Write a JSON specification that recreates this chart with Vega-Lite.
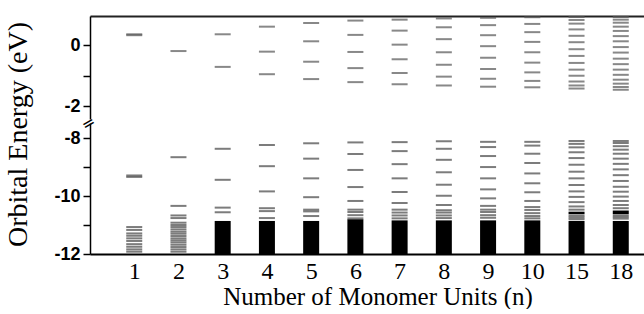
{
  "$schema": "https://vega.github.io/schema/vega-lite/v6.json",
  "padding": {"left": 3, "top": 15, "right": 0, "bottom": 0},
  "background": "white",
  "bounds": "flush",
  "spacing": 4,
  "config": {"view": {"stroke": null}},
  "datasets": {
    "upper": [
      {"n": 1, "E": 0.33}, {"n": 1, "E": 0.36},
      {"n": 2, "E": -0.19},
      {"n": 3, "E": 0.36}, {"n": 3, "E": -0.71},
      {"n": 4, "E": 0.61}, {"n": 4, "E": -0.21}, {"n": 4, "E": -0.95},
      {"n": 5, "E": 0.73}, {"n": 5, "E": 0.13}, {"n": 5, "E": -0.54}, {"n": 5, "E": -1.11},
      {"n": 6, "E": 0.81}, {"n": 6, "E": 0.34}, {"n": 6, "E": -0.22}, {"n": 6, "E": -0.75}, {"n": 6, "E": -1.21},
      {"n": 7, "E": 0.84}, {"n": 7, "E": 0.48}, {"n": 7, "E": 0.02}, {"n": 7, "E": -0.46}, {"n": 7, "E": -0.91}, {"n": 7, "E": -1.28},
      {"n": 8, "E": 0.88}, {"n": 8, "E": 0.59}, {"n": 8, "E": 0.2}, {"n": 8, "E": -0.23}, {"n": 8, "E": -0.64}, {"n": 8, "E": -1.03}, {"n": 8, "E": -1.32},
      {"n": 9, "E": 0.9}, {"n": 9, "E": 0.66}, {"n": 9, "E": 0.33}, {"n": 9, "E": -0.03}, {"n": 9, "E": -0.41}, {"n": 9, "E": -0.78}, {"n": 9, "E": -1.1}, {"n": 9, "E": -1.36},
      {"n": 10, "E": 0.92}, {"n": 10, "E": 0.7}, {"n": 10, "E": 0.43}, {"n": 10, "E": 0.11}, {"n": 10, "E": -0.23}, {"n": 10, "E": -0.57}, {"n": 10, "E": -0.89}, {"n": 10, "E": -1.17}, {"n": 10, "E": -1.38},
      {"n": 15, "E": 0.93}, {"n": 15, "E": 0.83}, {"n": 15, "E": 0.71}, {"n": 15, "E": 0.52}, {"n": 15, "E": 0.31}, {"n": 15, "E": 0.1}, {"n": 15, "E": -0.13}, {"n": 15, "E": -0.35}, {"n": 15, "E": -0.58}, {"n": 15, "E": -0.8}, {"n": 15, "E": -1.0}, {"n": 15, "E": -1.19}, {"n": 15, "E": -1.32}, {"n": 15, "E": -1.42},
      {"n": 18, "E": 0.93}, {"n": 18, "E": 0.84}, {"n": 18, "E": 0.74}, {"n": 18, "E": 0.61}, {"n": 18, "E": 0.47}, {"n": 18, "E": 0.3}, {"n": 18, "E": 0.13}, {"n": 18, "E": -0.06}, {"n": 18, "E": -0.24}, {"n": 18, "E": -0.44}, {"n": 18, "E": -0.62}, {"n": 18, "E": -0.8}, {"n": 18, "E": -0.97}, {"n": 18, "E": -1.13}, {"n": 18, "E": -1.26}, {"n": 18, "E": -1.37}, {"n": 18, "E": -1.46}
    ],
    "lower": [
      {"n": 1, "E": -9.29}, {"n": 1, "E": -9.34},
      {"n": 1, "E": -11.07}, {"n": 1, "E": -11.17}, {"n": 1, "E": -11.29}, {"n": 1, "E": -11.37}, {"n": 1, "E": -11.46}, {"n": 1, "E": -11.55}, {"n": 1, "E": -11.66}, {"n": 1, "E": -11.75}, {"n": 1, "E": -11.84}, {"n": 1, "E": -11.92},
      {"n": 2, "E": -8.66}, {"n": 2, "E": -10.34}, {"n": 2, "E": -10.67}, {"n": 2, "E": -10.76},
      {"n": 2, "E": -10.92}, {"n": 2, "E": -11.0}, {"n": 2, "E": -11.07}, {"n": 2, "E": -11.15}, {"n": 2, "E": -11.23}, {"n": 2, "E": -11.3}, {"n": 2, "E": -11.38}, {"n": 2, "E": -11.46}, {"n": 2, "E": -11.53}, {"n": 2, "E": -11.6}, {"n": 2, "E": -11.68}, {"n": 2, "E": -11.76}, {"n": 2, "E": -11.84}, {"n": 2, "E": -11.92},
      {"n": 3, "E": -8.37}, {"n": 3, "E": -9.44}, {"n": 3, "E": -10.4}, {"n": 3, "E": -10.56},
      {"n": 4, "E": -8.24}, {"n": 4, "E": -8.97}, {"n": 4, "E": -9.84}, {"n": 4, "E": -10.42}, {"n": 4, "E": -10.52}, {"n": 4, "E": -10.76},
      {"n": 5, "E": -8.18}, {"n": 5, "E": -8.71}, {"n": 5, "E": -9.39}, {"n": 5, "E": -10.04}, {"n": 5, "E": -10.47}, {"n": 5, "E": -10.53}, {"n": 5, "E": -10.69},
      {"n": 6, "E": -8.15}, {"n": 6, "E": -8.55}, {"n": 6, "E": -9.1}, {"n": 6, "E": -9.69}, {"n": 6, "E": -10.17}, {"n": 6, "E": -10.47}, {"n": 6, "E": -10.55}, {"n": 6, "E": -10.66}, {"n": 6, "E": -10.77},
      {"n": 7, "E": -8.14}, {"n": 7, "E": -8.45}, {"n": 7, "E": -8.9}, {"n": 7, "E": -9.39}, {"n": 7, "E": -9.86}, {"n": 7, "E": -10.24}, {"n": 7, "E": -10.47}, {"n": 7, "E": -10.57}, {"n": 7, "E": -10.67}, {"n": 7, "E": -10.77},
      {"n": 8, "E": -8.11}, {"n": 8, "E": -8.37}, {"n": 8, "E": -8.75}, {"n": 8, "E": -9.18}, {"n": 8, "E": -9.61}, {"n": 8, "E": -9.99}, {"n": 8, "E": -10.31}, {"n": 8, "E": -10.49}, {"n": 8, "E": -10.57}, {"n": 8, "E": -10.67}, {"n": 8, "E": -10.76},
      {"n": 9, "E": -8.13}, {"n": 9, "E": -8.31}, {"n": 9, "E": -8.62}, {"n": 9, "E": -9.0}, {"n": 9, "E": -9.39}, {"n": 9, "E": -9.77}, {"n": 9, "E": -10.08}, {"n": 9, "E": -10.34}, {"n": 9, "E": -10.47}, {"n": 9, "E": -10.55}, {"n": 9, "E": -10.66}, {"n": 9, "E": -10.75},
      {"n": 10, "E": -8.13}, {"n": 10, "E": -8.26}, {"n": 10, "E": -8.54}, {"n": 10, "E": -8.86}, {"n": 10, "E": -9.22}, {"n": 10, "E": -9.56}, {"n": 10, "E": -9.87}, {"n": 10, "E": -10.17}, {"n": 10, "E": -10.38}, {"n": 10, "E": -10.48}, {"n": 10, "E": -10.59}, {"n": 10, "E": -10.69}, {"n": 10, "E": -10.77},
      {"n": 15, "E": -8.1}, {"n": 15, "E": -8.2}, {"n": 15, "E": -8.32}, {"n": 15, "E": -8.49}, {"n": 15, "E": -8.69}, {"n": 15, "E": -8.92}, {"n": 15, "E": -9.16}, {"n": 15, "E": -9.39}, {"n": 15, "E": -9.62}, {"n": 15, "E": -9.84}, {"n": 15, "E": -10.03}, {"n": 15, "E": -10.21}, {"n": 15, "E": -10.36}, {"n": 15, "E": -10.47}, {"n": 15, "E": -10.68}, {"n": 15, "E": -10.74}, {"n": 15, "E": -10.8},
      {"n": 18, "E": -8.1}, {"n": 18, "E": -8.17}, {"n": 18, "E": -8.28}, {"n": 18, "E": -8.4}, {"n": 18, "E": -8.54}, {"n": 18, "E": -8.71}, {"n": 18, "E": -8.89}, {"n": 18, "E": -9.08}, {"n": 18, "E": -9.28}, {"n": 18, "E": -9.48}, {"n": 18, "E": -9.68}, {"n": 18, "E": -9.85}, {"n": 18, "E": -10.02}, {"n": 18, "E": -10.17}, {"n": 18, "E": -10.31}, {"n": 18, "E": -10.42}, {"n": 18, "E": -10.66}, {"n": 18, "E": -10.72}, {"n": 18, "E": -10.78}
    ],
    "bands": [
      {"n": 3, "top": -10.86, "bottom": -12},
      {"n": 4, "top": -10.86, "bottom": -12},
      {"n": 5, "top": -10.86, "bottom": -12},
      {"n": 6, "top": -10.8, "bottom": -12},
      {"n": 7, "top": -10.84, "bottom": -12},
      {"n": 8, "top": -10.84, "bottom": -12},
      {"n": 9, "top": -10.84, "bottom": -12},
      {"n": 10, "top": -10.84, "bottom": -12},
      {"n": 15, "top": -10.86, "bottom": -12},
      {"n": 15, "top": -10.54, "bottom": -10.63},
      {"n": 18, "top": -10.86, "bottom": -12},
      {"n": 18, "top": -10.5, "bottom": -10.62}
    ]
  },
  "vconcat": [
    {
      "width": 575,
      "height": 103,
      "data": {"name": "upper"},
      "mark": {"type": "tick", "color": "#555555", "thickness": 2, "size": 16},
      "encoding": {
        "x": {
          "field": "n", "type": "ordinal",
          "scale": {"type": "point", "domain": [1, 2, 3, 4, 5, 6, 7, 8, 9, 10, 15, 18], "padding": 1.1},
          "axis": {"orient": "top", "labels": false, "ticks": false, "title": null, "grid": false, "domainColor": "#222222", "domainWidth": 2}
        },
        "y": {
          "field": "E", "type": "quantitative",
          "scale": {"domain": [-2.42, 0.96], "nice": false, "zero": false},
          "axis": {
            "values": [0, -1, -2],
            "labelExpr": "datum.value % 2 == 0 ? '' + datum.value : ''",
            "grid": false,
            "labelFont": "Liberation Sans", "labelFontWeight": "bold", "labelFontSize": 18, "labelColor": "#000000", "labelPadding": 3,
            "tickColor": "#000000", "tickSize": 7, "tickWidth": 1.5,
            "domainColor": "#000000", "domainWidth": 1.5,
            "title": "=", "titleFont": "DejaVu Sans", "titleFontSize": 16, "titleFontWeight": "normal", "titleColor": "#000000",
            "titleAngle": -30, "titleX": -2, "titleY": 107, "titleAlign": "center", "titleBaseline": "middle"
          }
        }
      }
    },
    {
      "width": 575,
      "height": 131,
      "layer": [
        {
          "data": {"name": "bands"},
          "mark": {"type": "bar", "color": "#000000", "width": 16},
          "encoding": {
            "x": {"field": "n", "type": "ordinal"},
            "y": {"field": "top", "type": "quantitative"},
            "y2": {"field": "bottom"}
          }
        },
        {
          "data": {"name": "lower"},
          "mark": {"type": "tick", "color": "#444444", "thickness": 2, "size": 16},
          "encoding": {
            "x": {"field": "n", "type": "ordinal"},
            "y": {"field": "E", "type": "quantitative"}
          }
        }
      ],
      "encoding": {
        "x": {
          "field": "n", "type": "ordinal",
          "scale": {"type": "point", "domain": [1, 2, 3, 4, 5, 6, 7, 8, 9, 10, 15, 18], "padding": 1.1},
          "axis": {
            "orient": "bottom", "labelAngle": 0, "ticks": false, "grid": false, "domainColor": "#000000", "domainWidth": 2,
            "labelFont": "Liberation Serif", "labelFontSize": 24, "labelColor": "#000000", "labelPadding": 5,
            "title": "Number of Monomer Units (n)", "titleFont": "Liberation Serif", "titleFontSize": 25, "titleFontWeight": "normal", "titleColor": "#000000", "titlePadding": 1
          }
        },
        "y": {
          "type": "quantitative",
          "scale": {"domain": [-12, -7.48], "nice": false, "zero": false},
          "axis": {
            "values": [-8, -9, -10, -11, -12],
            "labelExpr": "datum.value % 2 == 0 ? '' + datum.value : ''",
            "grid": false,
            "labelFont": "Liberation Sans", "labelFontWeight": "bold", "labelFontSize": 18, "labelColor": "#000000", "labelPadding": 3,
            "tickColor": "#000000", "tickSize": 7, "tickWidth": 1.5,
            "domainColor": "#000000", "domainWidth": 1.5,
            "title": "Orbital Energy (eV)", "titleFont": "Liberation Serif", "titleFontSize": 28, "titleFontWeight": "normal", "titleColor": "#000000",
            "titleAngle": -90, "titleX": -58, "titleY": 11, "titleAlign": "center", "titleBaseline": "bottom"
          }
        }
      }
    }
  ]
}
